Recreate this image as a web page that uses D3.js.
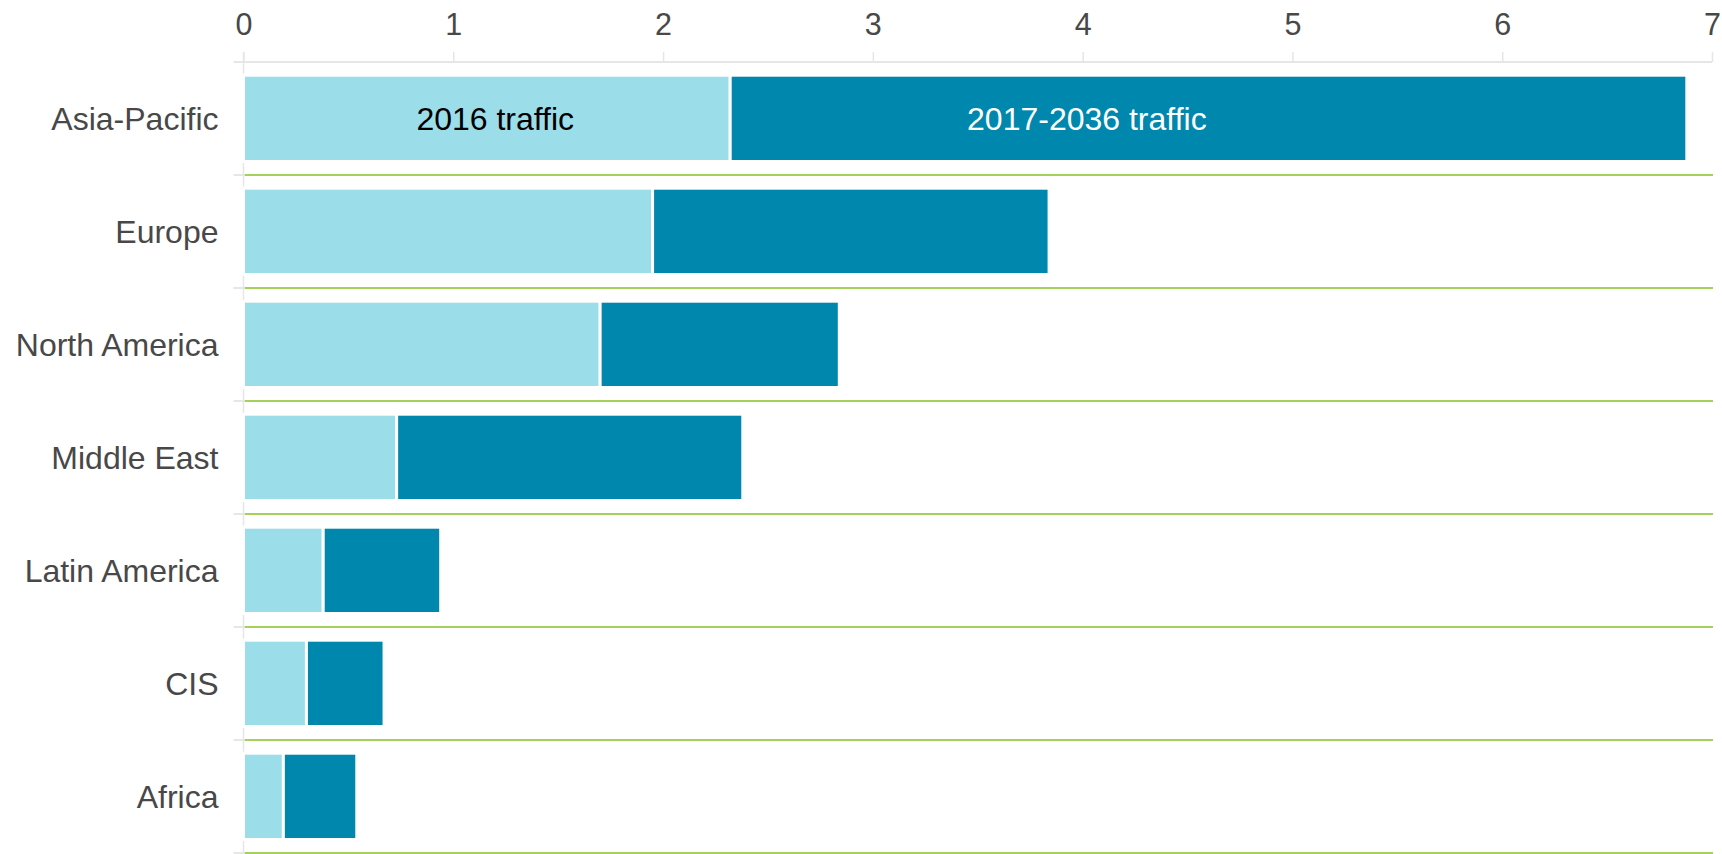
<!DOCTYPE html>
<html>
<head>
<meta charset="utf-8">
<script src="https://cdn.jsdelivr.net/npm/d3@7"></script>
<style>
  html, body { margin: 0; padding: 0; background: #fff; }
  svg { display: block; font-family: "Liberation Sans", Arial, sans-serif; }
</style>
</head>
<body>
<svg id="chart" width="1722" height="854"></svg>
<script>
// Passenger traffic by region (trillion RPK)
const regions = ["Asia-Pacific", "Europe", "North America", "Middle East", "Latin America", "CIS", "Africa"];
const traffic2016 = [2.32, 1.95, 1.70, 0.73, 0.38, 0.30, 0.19];
const growth2017to2036 = [4.56, 1.89, 1.14, 1.65, 0.56, 0.37, 0.35];
const seriesNames = ["2016 traffic", "2017-2036 traffic"];
const tickValues = [0, 1, 2, 3, 4, 5, 6, 7];

const svg = d3.select("#chart");
const W = 1722, H = 854;
const margin = { top: 62, right: 10, bottom: 1, left: 243.5 };

const x = d3.scaleLinear().domain([0, 7]).range([margin.left, 1712]);
const y = d3.scaleBand().domain(regions).range([margin.top, margin.top + 113 * regions.length]).padding(0);

const colors = ["#9bdde9", "#0087ad"];
const textColors = ["#000", "#fff"];
const axisGray = "#e6e6e6";
const gridGreen = "#84c225";
const labelGray = "#484848";

// stacked series
const rows = regions.map((r, i) => ({ region: r, s0: traffic2016[i], s1: growth2017to2036[i] }));
const stacked = d3.stack().keys(["s0", "s1"])(rows);

// horizontal gridlines (green) below each band
svg.append("g").selectAll("line")
  .data(regions)
  .join("line")
  .attr("x1", x(0) + 1).attr("x2", x(7) + 1)
  .attr("y1", d => y(d) + y.bandwidth())
  .attr("y2", d => y(d) + y.bandwidth())
  .attr("stroke", gridGreen)
  .attr("stroke-width", 1.6);

// top value axis
const xAxis = d3.axisTop(x).tickValues(tickValues).tickSize(10).tickPadding(17).tickFormat(d3.format("d"));
const gx = svg.append("g").attr("transform", `translate(0,${margin.top})`).call(xAxis);
gx.select(".domain").attr("stroke", axisGray).attr("stroke-width", 2)
  .attr("d", `M${x(0) - 10},0H${x(7)}`);
gx.selectAll(".tick line").attr("stroke", axisGray).attr("stroke-width", 1.5);
gx.selectAll(".tick text").attr("fill", labelGray).style("font-size", "30.5px");

// left category axis
svg.append("line")
  .attr("x1", x(0)).attr("x2", x(0))
  .attr("y1", margin.top - 10).attr("y2", H)
  .attr("stroke", axisGray).attr("stroke-width", 1.5);
svg.append("g").selectAll("line")
  .data(regions)
  .join("line")
  .attr("x1", x(0) - 10).attr("x2", x(0))
  .attr("y1", d => y(d) + y.bandwidth())
  .attr("y2", d => y(d) + y.bandwidth())
  .attr("stroke", axisGray).attr("stroke-width", 2);

svg.append("g").selectAll("text")
  .data(regions)
  .join("text")
  .attr("x", x(0) - 25)
  .attr("y", d => y(d) + y.bandwidth() / 2)
  .attr("dy", "0.35em")
  .attr("text-anchor", "end")
  .attr("fill", labelGray)
  .style("font-size", "32px")
  .text(d => d);

// bars
const barInset = 13.2, barH = 86.3;
svg.append("g").selectAll("g")
  .data(stacked)
  .join("g")
  .attr("fill", (d, i) => colors[i])
  .selectAll("rect")
  .data(d => d)
  .join("rect")
  .attr("x", d => x(d[0]))
  .attr("width", d => x(d[1]) - x(d[0]))
  .attr("y", d => y(d.data.region) + barInset)
  .attr("height", barH)
  .attr("stroke", "#fff")
  .attr("stroke-width", 3);

// series labels inside the first bar
const seriesLabelAt = [1.2, 4.02];
svg.append("g").selectAll("text")
  .data(seriesNames)
  .join("text")
  .attr("x", (d, i) => x(seriesLabelAt[i]))
  .attr("y", y(regions[0]) + barInset + barH / 2)
  .attr("dy", "0.35em")
  .attr("text-anchor", "middle")
  .attr("fill", (d, i) => textColors[i])
  .style("font-size", "32px")
  .text(d => d);
</script>
</body>
</html>
